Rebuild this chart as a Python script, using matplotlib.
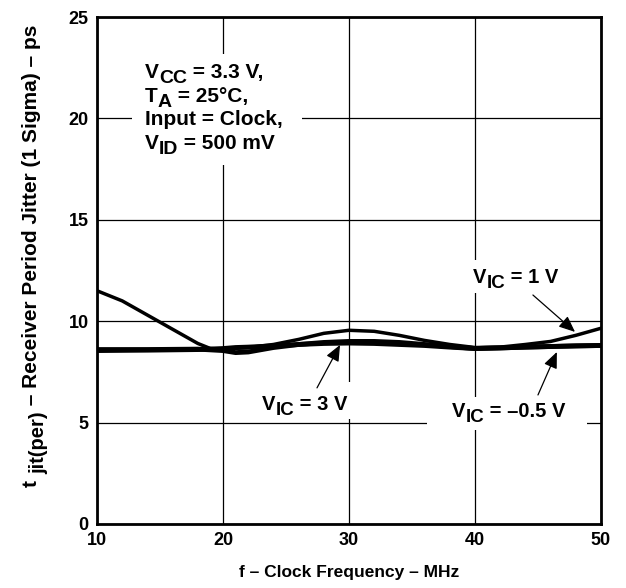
import matplotlib
matplotlib.use("Agg")
import matplotlib.pyplot as plt
from matplotlib.patches import Rectangle

plt.rcParams['font.family'] = ['Liberation Sans', 'DejaVu Sans']
plt.rcParams['font.weight'] = 'bold'

# clock frequency (MHz) and period jitter (ps) for each common-mode voltage
freq_1v = [10, 12, 14, 16, 18, 19, 20, 22, 24, 26, 28, 30, 32, 34, 36, 38, 40, 42, 44, 46, 48, 50]
jit_1v = [11.5, 11.0, 10.3, 9.6, 8.9, 8.65, 8.62, 8.7, 8.85, 9.1, 9.4, 9.55, 9.5, 9.3,
          9.05, 8.85, 8.7, 8.72, 8.85, 9.0, 9.3, 9.65]

freq_3v = [10, 14, 18, 20, 21, 22, 24, 26, 28, 30, 32, 34, 36, 38, 40, 42, 44, 46, 48, 50]
jit_3v = [8.6, 8.6, 8.62, 8.55, 8.45, 8.48, 8.7, 8.85, 8.95, 9.0, 9.0, 8.95, 8.85, 8.75,
          8.65, 8.68, 8.72, 8.75, 8.78, 8.8]

freq_m05v = [10, 14, 18, 20, 21, 22, 24, 26, 28, 30, 32, 34, 36, 38, 40, 42, 44, 46, 48, 50]
jit_m05v = [8.55, 8.57, 8.6, 8.65, 8.7, 8.72, 8.78, 8.85, 8.9, 8.92, 8.9, 8.85, 8.8, 8.72,
            8.65, 8.68, 8.72, 8.75, 8.78, 8.8]

x_ticks = [10, 20, 30, 40, 50]
y_ticks = [0, 5, 10, 15, 20, 25]

conditions = [[('V', 0), ('CC', 1), (' = 3.3 V,', 0)],
              [('T', 0), ('A', 1), (' = 25°C,', 0)],
              [('Input = Clock,', 0)],
              [('V', 0), ('ID', 1), (' = 500 mV', 0)]]

fig = plt.figure(figsize=(6.26, 5.88), dpi=100)
ax = fig.add_axes([0.155, 0.109, 0.805, 0.862])

ax.plot(freq_m05v, jit_m05v, color='black', lw=3.5, zorder=3)
ax.plot(freq_3v, jit_3v, color='black', lw=3.5, zorder=3)
ax.plot(freq_1v, jit_1v, color='black', lw=2.5, zorder=3)

ax.set_xlim(10, 50)
ax.set_ylim(0, 25)
ax.set_xticks(x_ticks)
ax.set_yticks(y_ticks)
ax.tick_params(length=0, labelsize=13, pad=6)
ax.grid(True, color='black', lw=0.9)
ax.set_axisbelow(True)
for s in ax.spines.values():
    s.set_linewidth(2)
    s.set_zorder(5)

ax.set_xlabel('f – Clock Frequency – MHz', fontsize=12.5, fontweight='bold', labelpad=11)


def rich(x, y, parts, size, subsize, drop, rotate=False):
    # text with large subscripts, pieces chained one after another
    if rotate:
        first = ax.text(x, y, parts[0][0], fontsize=size, rotation=90, ha='right', va='bottom',
                        transform=fig.transFigure, clip_on=False)
    else:
        first = ax.text(x, y, parts[0][0], fontsize=size, ha='left', va='baseline', zorder=4)
    prev = first
    for txt, sub in parts[1:]:
        fs = subsize if sub else size
        shift = (drop - 0.21 * (size - subsize) * 100 / 72) if sub else 0
        if rotate:
            prev = ax.annotate(txt, xy=(1, 1), xycoords=(first, prev), xytext=(shift, 0),
                               textcoords='offset pixels', fontsize=fs, rotation=90,
                               ha='right', va='bottom', annotation_clip=False)
        else:
            prev = ax.annotate(txt, xy=(1, 0), xycoords=(prev, first), xytext=(0, -shift),
                               textcoords='offset pixels', fontsize=fs,
                               ha='left', va='bottom', zorder=4)
    return first


# y label
rich(0.0655, 0.172, [('t ', 0), ('jit(per)', 1), (' – Receiver Period Jitter (1 Sigma) – ps', 0)],
     15, 14.5, 7, rotate=True)

# white patches where the notes break the grid
for x0, y0, w, h in [(12.8, 17.7, 13.5, 5.5), (22.6, 5.15, 8.0, 1.85),
                     (39.2, 11.4, 8.3, 1.6), (36.2, 4.64, 12.7, 1.62)]:
    ax.add_patch(Rectangle((x0, y0), w, h, facecolor='white', edgecolor='none', zorder=1.5))

for i, line in enumerate(conditions):
    rich(13.8, 22.0 - i * 1.17, line, 15, 14, 5.5)

rich(23.1, 5.62, [('V', 0), ('IC', 1), (' = 3 V', 0)], 14.5, 13.5, 5.5)
rich(39.84, 11.88, [('V', 0), ('IC', 1), (' = 1 V', 0)], 14.5, 13.5, 5.5)
rich(38.17, 5.28, [('V', 0), ('IC', 1), (' = –0.5 V', 0)], 14.5, 13.5, 5.5)

arrow = dict(arrowstyle='-|>,head_length=0.7,head_width=0.3', color='black', lw=0.9,
             shrinkA=0, shrinkB=0, mutation_scale=14)
for head, tail in [((29.29, 8.83), (27.46, 6.71)),
                   ((47.94, 9.47), (44.6, 11.29)),
                   ((46.5, 8.48), (45.0, 6.36))]:
    ax.annotate('', xy=head, xytext=tail, arrowprops=arrow, zorder=4)

fig.savefig('out.png', dpi=100)
